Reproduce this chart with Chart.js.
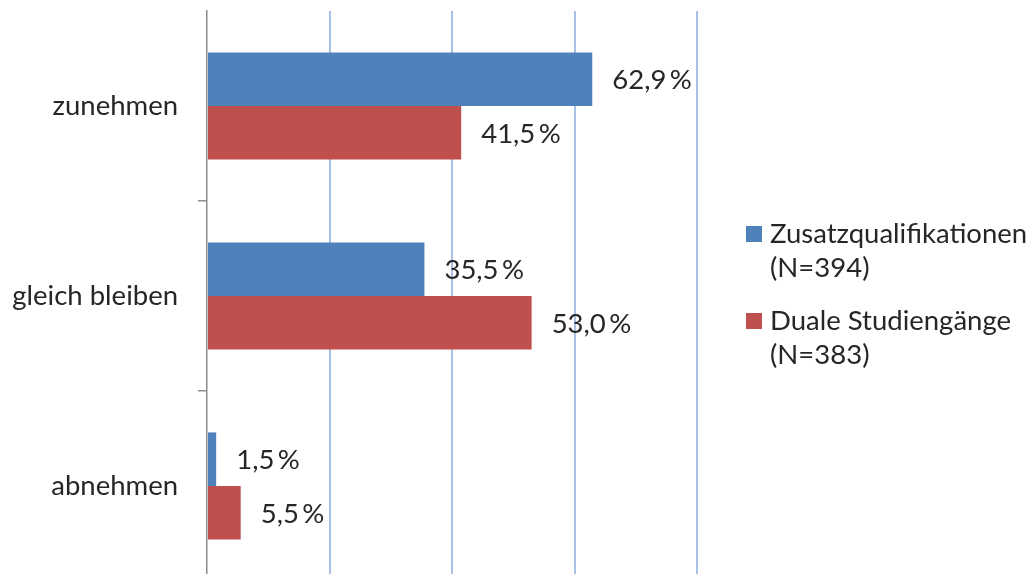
<!DOCTYPE html>
<html><head><meta charset="utf-8">
<script src="https://cdn.jsdelivr.net/npm/chart.js@4.4.1/dist/chart.umd.min.js"></script>
<style>
html,body{margin:0;padding:0;background:#fff;overflow:hidden;}
#wrap{width:1034px;height:574px;overflow:hidden;position:relative;}
</style></head><body>
<div id="wrap"><canvas id="c" width="1034" height="581"></canvas></div>
<script>
const categories = ['zunehmen', 'gleich bleiben', 'abnehmen'];
const seriesNames = [['Zusatzqualifikationen', '(N=394)'], ['Duale Studiengänge', '(N=383)']];
const zusatz = [62.9, 35.5, 1.5];
const dual = [41.5, 53.0, 5.5];
const xTicks = [0, 20, 40, 60, 80];

const FONT = 'Lato';
const FS = 27.5;
const TXT = '#262626';

const fmt = v => v.toFixed(1).replace('.', ',') + '\u2009%';

const valueLabels = {
  id: 'valueLabels',
  afterDatasetsDraw(chart) {
    const ctx = chart.ctx;
    ctx.save();
    ctx.font = FS + 'px ' + FONT;
    ctx.fillStyle = TXT;
    ctx.textBaseline = 'middle';
    ctx.textAlign = 'left';
    chart.data.datasets.forEach((ds, di) => {
      chart.getDatasetMeta(di).data.forEach((bar, i) => {
        ctx.fillText(fmt(ds.data[i]), bar.x + 20, bar.y + 1);
      });
    });
    ctx.restore();
  }
};

const sideLegend = {
  id: 'sideLegend',
  afterDraw(chart) {
    const ctx = chart.ctx;
    ctx.save();
    ctx.font = FS + 'px ' + FONT;
    ctx.textBaseline = 'middle';
    ctx.textAlign = 'left';
    const tops = [226, 313];
    chart.data.datasets.forEach((ds, di) => {
      const t = tops[di];
      ctx.fillStyle = ds.backgroundColor;
      ctx.fillRect(746, t, 16, 16);
      ctx.fillStyle = TXT;
      seriesNames[di].forEach((line, li) => {
        ctx.fillText(line, 770, t + 8 + li * 34);
      });
    });
    ctx.restore();
  }
};

new Chart(document.getElementById('c'), {
  type: 'bar',
  data: {
    labels: categories,
    datasets: [
      { label: seriesNames[0].join(' '), data: zusatz, backgroundColor: '#4f81bd', categoryPercentage: 0.564, barPercentage: 1 },
      { label: seriesNames[1].join(' '), data: dual, backgroundColor: '#c0504d', categoryPercentage: 0.564, barPercentage: 1 }
    ]
  },
  options: {
    indexAxis: 'y',
    responsive: false,
    animation: false,
    devicePixelRatio: 1,
    layout: { padding: { top: 11, right: 337, bottom: 0, left: 0 } },
    plugins: { legend: { display: false }, tooltip: { enabled: false } },
    scales: {
      x: {
        min: 0, max: 80,
        afterBuildTicks: s => { s.ticks = xTicks.map(v => ({ value: v })); },
        ticks: { display: false },
        border: { display: false },
        grid: {
          drawTicks: false,
          lineWidth: 2,
          color: c => (c.tick && c.tick.value === 0) ? 'rgba(0,0,0,0)' : '#a9c1e6'
        },
        afterFit: s => { s.height = 0; s.paddingLeft = 0; s.paddingRight = 0; }
      },
      y: {
        afterFit: s => { s.width = 207; s.paddingTop = 0; s.paddingBottom = 0; },
        border: { display: true, color: '#8c8c8c', width: 1.5 },
        grid: {
          offset: true,
          drawOnChartArea: false,
          drawTicks: true,
          tickLength: 9,
          lineWidth: 1.5,
          color: c => c.index === 0 ? 'rgba(0,0,0,0)' : '#8c8c8c'
        },
        ticks: { color: TXT, padding: 20, font: { family: FONT, size: FS } }
      }
    }
  },
  plugins: [valueLabels, sideLegend]
});
</script>
</body></html>
